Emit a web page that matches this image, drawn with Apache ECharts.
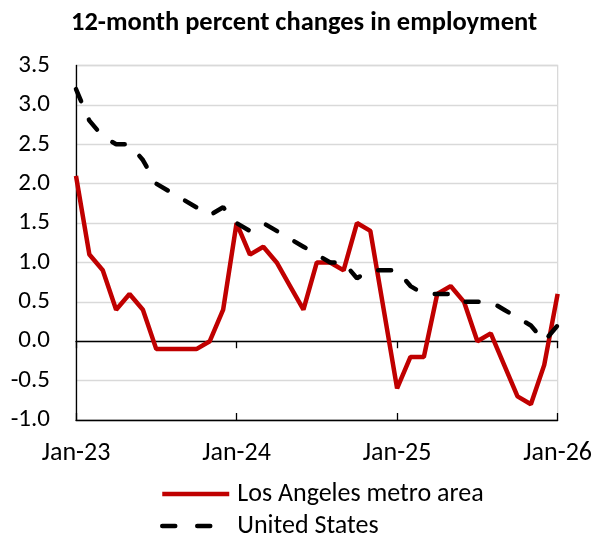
<!DOCTYPE html>
<html>
<head>
<meta charset="utf-8">
<script src="https://cdn.jsdelivr.net/npm/echarts@6/dist/echarts.min.js"></script>
<style>
html, body { margin: 0; padding: 0; background: #fff; }
#chart { width: 595px; height: 535px; }
</style>
</head>
<body>
<div id="chart"></div>
<script>
// months Jan-23 .. Jan-26
const months = [
  'Jan-23', 'Feb-23', 'Mar-23', 'Apr-23', 'May-23', 'Jun-23', 'Jul-23', 'Aug-23', 'Sep-23', 'Oct-23', 'Nov-23', 'Dec-23',
  'Jan-24', 'Feb-24', 'Mar-24', 'Apr-24', 'May-24', 'Jun-24', 'Jul-24', 'Aug-24', 'Sep-24', 'Oct-24', 'Nov-24', 'Dec-24',
  'Jan-25', 'Feb-25', 'Mar-25', 'Apr-25', 'May-25', 'Jun-25', 'Jul-25', 'Aug-25', 'Sep-25', 'Oct-25', 'Nov-25', 'Dec-25',
  'Jan-26'
];

const laValues = [
  2.1, 1.1, 0.9, 0.4, 0.6, 0.4, -0.1, -0.1, -0.1, -0.1, 0.0, 0.4,
  1.5, 1.1, 1.2, 1.0, 0.7, 0.4, 1.0, 1.0, 0.9, 1.5, 1.4, 0.4,
  -0.6, -0.2, -0.2, 0.6, 0.7, 0.5, 0.0, 0.1, -0.3, -0.7, -0.8, -0.3,
  0.6
];

const usValues = [
  3.2, 2.8, 2.6, 2.5, 2.5, 2.3, 2.0, 1.9, 1.8, 1.7, 1.6, 1.7,
  1.5, 1.4, 1.5, 1.4, 1.3, 1.2, 1.1, 1.0, 1.0, 0.8, 0.9, 0.9,
  0.9, 0.7, 0.6, 0.6, 0.6, 0.5, 0.5, 0.5, 0.4, 0.3, 0.2, 0.0,
  0.2
];

const seriesNames = ['Los Angeles metro area', 'United States'];

const font = 'Carlito, Lato, sans-serif';
const isJan = (i) => i % 12 === 0;

const myChart = echarts.init(document.getElementById('chart'));

// axis on zero that carries the crossing ticks (one outward, one inward)
const zeroAxis = (inside) => ({
  type: 'category',
  data: months,
  boundaryGap: false,
  position: 'bottom',
  axisLine: { show: true, onZero: true, lineStyle: { color: '#000', width: 1.3 } },
  axisTick: { show: true, inside: inside, length: 7, interval: isJan, lineStyle: { color: '#000', width: 1.3 } },
  axisLabel: { show: false },
  splitLine: { show: false }
});

myChart.setOption({
  animation: false,
  title: {
    text: '12-month percent changes in employment',
    left: 71,
    top: 10,
    padding: 0,
    textStyle: { fontFamily: font, fontSize: 26.5, fontWeight: 'bold', color: '#000' }
  },
  grid: {
    left: 76,
    right: 37,
    top: 65.5,
    bottom: 115,
    show: true,
    borderColor: '#d9d9d9',
    borderWidth: 1.3
  },
  legend: {
    orient: 'vertical',
    left: 155,
    top: 476,
    height: 80,
    itemWidth: 67,
    itemHeight: 14,
    itemGap: 6,
    data: [
      { name: seriesNames[0] },
      // two dashes only in the legend sample
      { name: seriesNames[1], lineStyle: { width: 4.5, type: [13, 22], cap: 'round' } }
    ],
    itemStyle: { color: 'rgba(0,0,0,0)', borderWidth: 0 },
    lineStyle: { width: 4.5 },
    textStyle: { fontFamily: font, fontSize: 26, color: '#000', padding: [0, 0, 0, 3] }
  },
  xAxis: [
    {
      type: 'category',
      data: months,
      boundaryGap: false,
      position: 'bottom',
      axisLine: { show: false, onZero: false },
      axisTick: { show: false },
      axisLabel: { interval: isJan, fontFamily: font, fontSize: 26, color: '#000', margin: 20 },
      splitLine: { show: false }
    },
    zeroAxis(false),
    zeroAxis(true)
  ],
  yAxis: {
    type: 'value',
    min: -1,
    max: 3.5,
    interval: 0.5,
    axisLine: { show: true, onZero: false, lineStyle: { color: '#000', width: 1.3 } },
    axisTick: { show: false },
    axisLabel: {
      formatter: (v) => v.toFixed(1),
      fontFamily: font,
      fontSize: 25,
      color: '#000',
      margin: 26
    },
    splitLine: { lineStyle: { color: '#d9d9d9', width: 1.3 } }
  },
  series: [
    {
      name: seriesNames[0],
      type: 'line',
      data: laValues,
      symbol: 'none',
      z: 2,
      itemStyle: { color: '#c00000' },
      lineStyle: { color: '#c00000', width: 4.5 }
    },
    {
      name: seriesNames[1],
      type: 'line',
      data: usValues,
      symbol: 'none',
      z: 3,
      itemStyle: { color: '#000' },
      lineStyle: { color: '#000', width: 4.5, type: [13, 20], cap: 'round' }
    }
  ]
});
</script>
</body>
</html>
